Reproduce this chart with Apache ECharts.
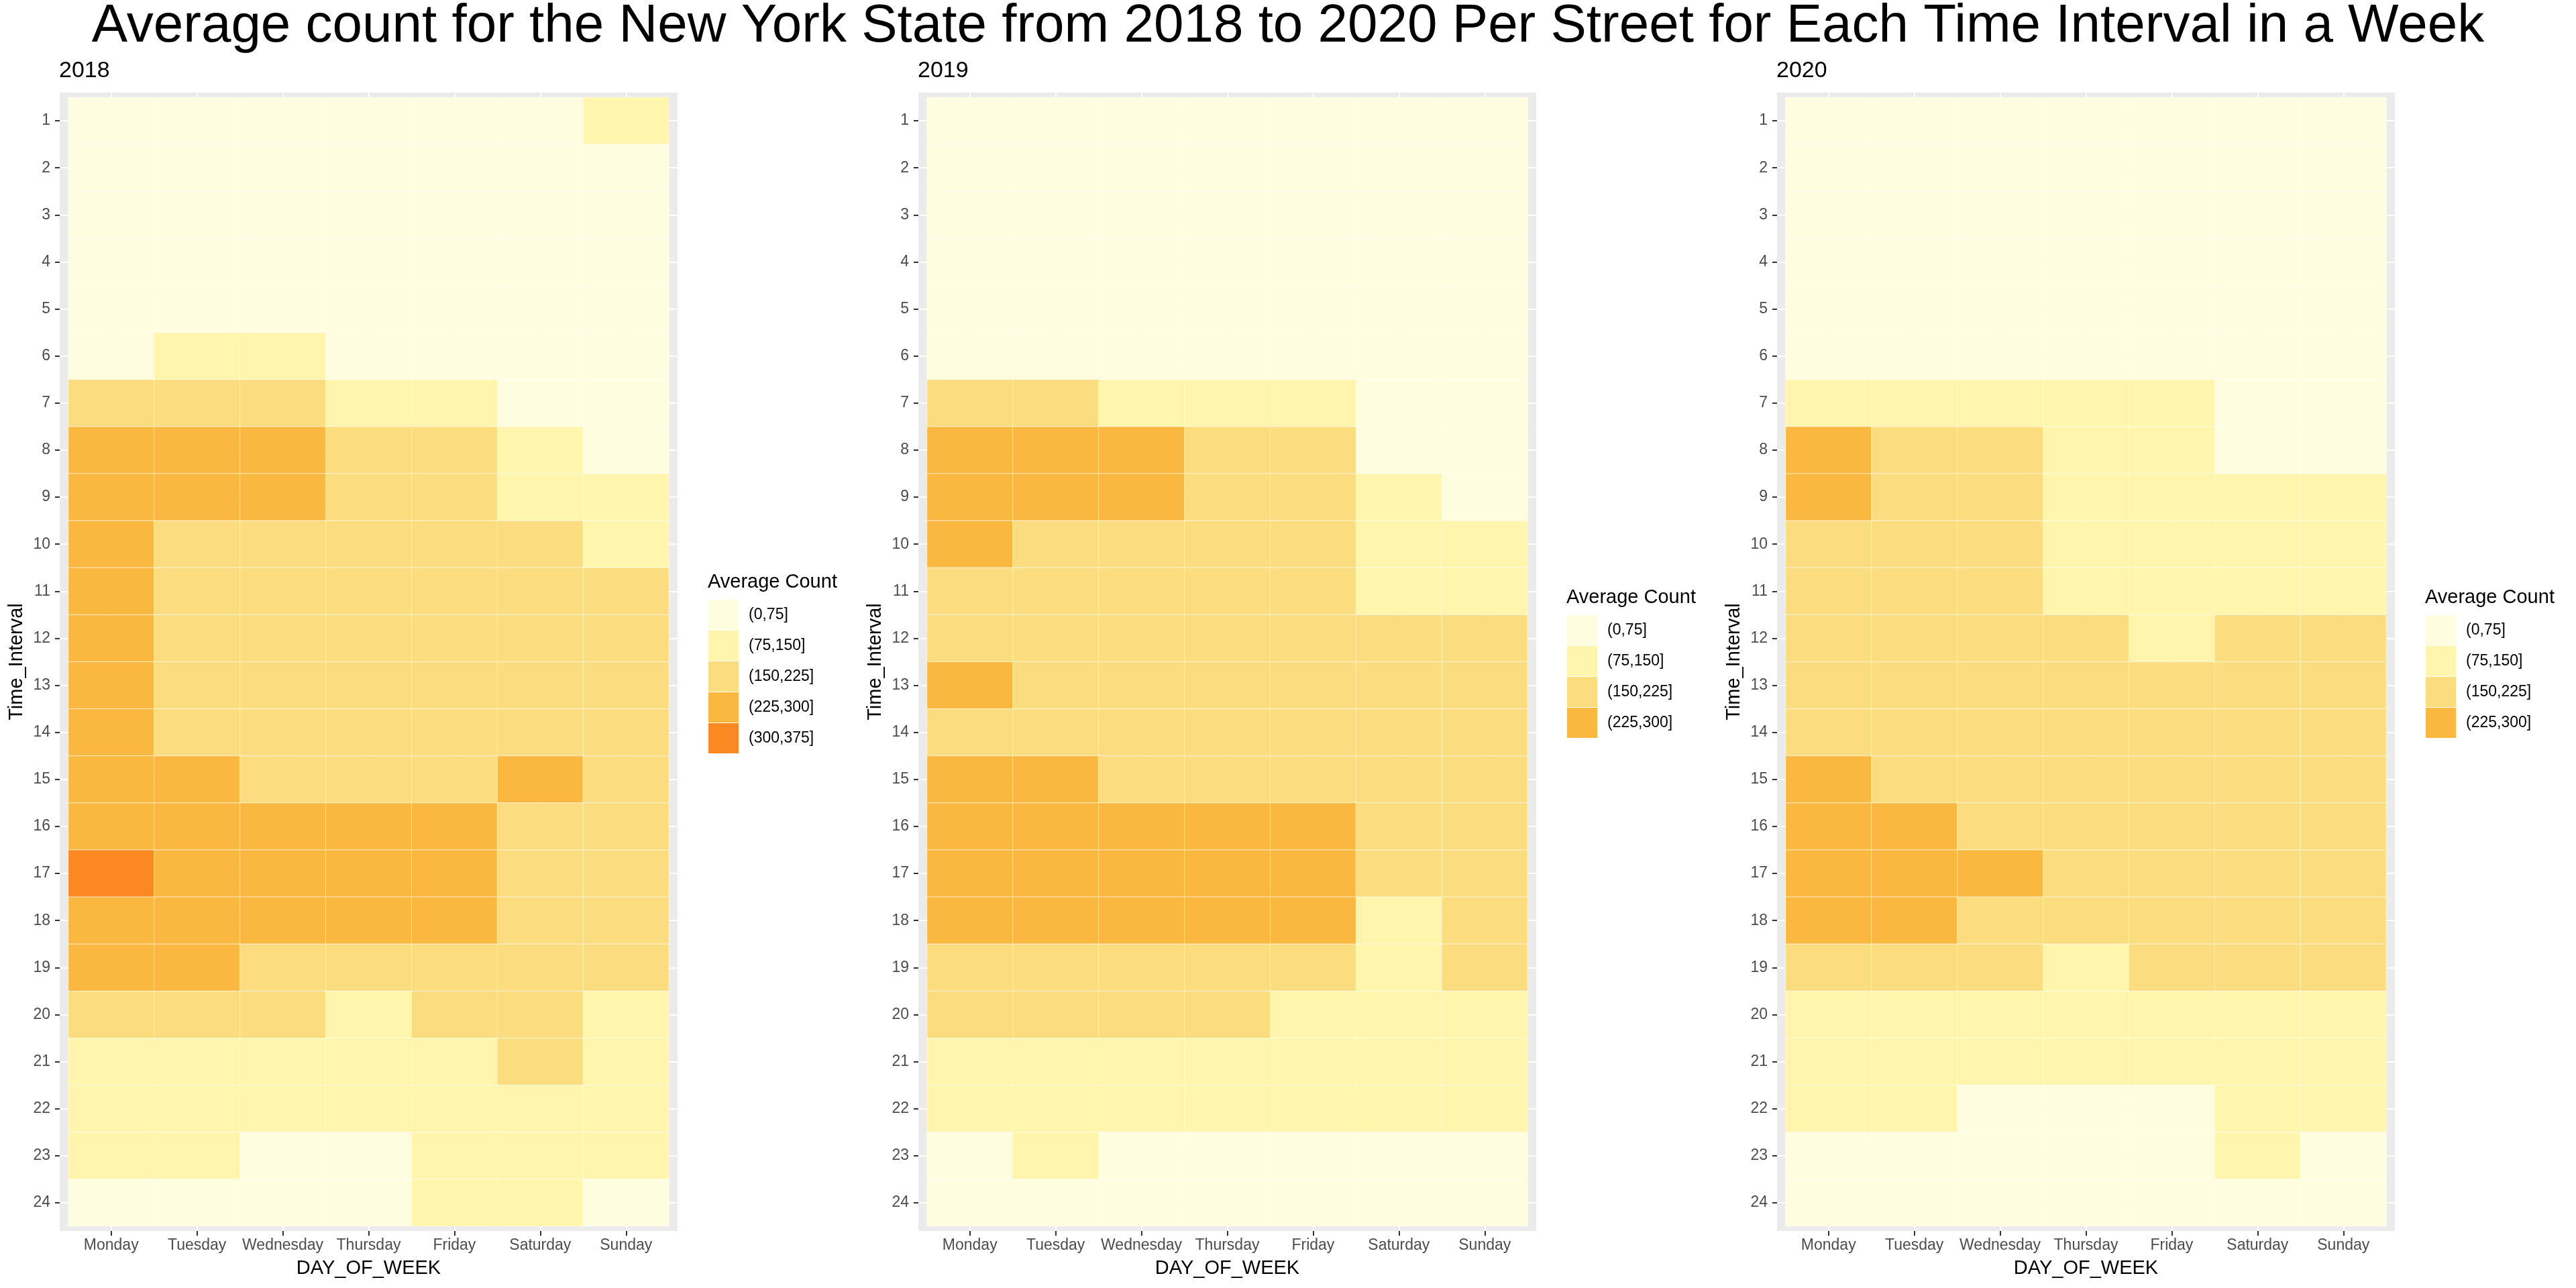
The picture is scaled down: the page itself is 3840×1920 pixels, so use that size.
<!DOCTYPE html>
<html>
<head>
<meta charset="utf-8">
<script src="https://cdn.jsdelivr.net/npm/echarts@6/dist/echarts.min.js"></script>
<style>
  html, body { margin: 0; padding: 0; background: #ffffff; }
  #chart { width: 3840px; height: 1920px; }
</style>
</head>
<body>
<div id="chart"></div>
<script>
// ---- Data ----
const days = ['Monday', 'Tuesday', 'Wednesday', 'Thursday', 'Friday', 'Saturday', 'Sunday'];
const timeIntervals = [1, 2, 3, 4, 5, 6, 7, 8, 9, 10, 11, 12, 13, 14, 15, 16, 17, 18, 19, 20, 21, 22, 23, 24];
const years = ['2018', '2019', '2020'];
const binLabels = ['(0,75]', '(75,150]', '(150,225]', '(225,300]', '(300,375]'];
const binEdges = [0, 75, 150, 225, 300, 375];

// Average count per street; rows = Time_Interval 1..24, columns = Monday..Sunday
const counts2018 = [
  [40, 40, 40, 40, 40, 40, 110],
  [40, 40, 40, 40, 40, 40, 40],
  [40, 40, 40, 40, 40, 40, 40],
  [40, 40, 40, 40, 40, 40, 40],
  [40, 40, 40, 40, 40, 40, 40],
  [40, 110, 110, 40, 40, 40, 40],
  [190, 190, 190, 110, 110, 40, 40],
  [260, 260, 260, 190, 190, 110, 40],
  [260, 260, 260, 190, 190, 110, 110],
  [260, 190, 190, 190, 190, 190, 110],
  [260, 190, 190, 190, 190, 190, 190],
  [260, 190, 190, 190, 190, 190, 190],
  [260, 190, 190, 190, 190, 190, 190],
  [260, 190, 190, 190, 190, 190, 190],
  [260, 260, 190, 190, 190, 260, 190],
  [260, 260, 260, 260, 260, 190, 190],
  [330, 260, 260, 260, 260, 190, 190],
  [260, 260, 260, 260, 260, 190, 190],
  [260, 260, 190, 190, 190, 190, 190],
  [190, 190, 190, 110, 190, 190, 110],
  [110, 110, 110, 110, 110, 190, 110],
  [110, 110, 110, 110, 110, 110, 110],
  [110, 110, 40, 40, 110, 110, 110],
  [40, 40, 40, 40, 110, 110, 40]
];
const counts2019 = [
  [40, 40, 40, 40, 40, 40, 40],
  [40, 40, 40, 40, 40, 40, 40],
  [40, 40, 40, 40, 40, 40, 40],
  [40, 40, 40, 40, 40, 40, 40],
  [40, 40, 40, 40, 40, 40, 40],
  [40, 40, 40, 40, 40, 40, 40],
  [190, 190, 110, 110, 110, 40, 40],
  [260, 260, 260, 190, 190, 40, 40],
  [260, 260, 260, 190, 190, 110, 40],
  [260, 190, 190, 190, 190, 110, 110],
  [190, 190, 190, 190, 190, 110, 110],
  [190, 190, 190, 190, 190, 190, 190],
  [260, 190, 190, 190, 190, 190, 190],
  [190, 190, 190, 190, 190, 190, 190],
  [260, 260, 190, 190, 190, 190, 190],
  [260, 260, 260, 260, 260, 190, 190],
  [260, 260, 260, 260, 260, 190, 190],
  [260, 260, 260, 260, 260, 110, 190],
  [190, 190, 190, 190, 190, 110, 190],
  [190, 190, 190, 190, 110, 110, 110],
  [110, 110, 110, 110, 110, 110, 110],
  [110, 110, 110, 110, 110, 110, 110],
  [40, 110, 40, 40, 40, 40, 40],
  [40, 40, 40, 40, 40, 40, 40]
];
const counts2020 = [
  [40, 40, 40, 40, 40, 40, 40],
  [40, 40, 40, 40, 40, 40, 40],
  [40, 40, 40, 40, 40, 40, 40],
  [40, 40, 40, 40, 40, 40, 40],
  [40, 40, 40, 40, 40, 40, 40],
  [40, 40, 40, 40, 40, 40, 40],
  [110, 110, 110, 110, 110, 40, 40],
  [260, 190, 190, 110, 110, 40, 40],
  [260, 190, 190, 110, 110, 110, 110],
  [190, 190, 190, 110, 110, 110, 110],
  [190, 190, 190, 110, 110, 110, 110],
  [190, 190, 190, 190, 110, 190, 190],
  [190, 190, 190, 190, 190, 190, 190],
  [190, 190, 190, 190, 190, 190, 190],
  [260, 190, 190, 190, 190, 190, 190],
  [260, 260, 190, 190, 190, 190, 190],
  [260, 260, 260, 190, 190, 190, 190],
  [260, 260, 190, 190, 190, 190, 190],
  [190, 190, 190, 110, 190, 190, 190],
  [110, 110, 110, 110, 110, 110, 110],
  [110, 110, 110, 110, 110, 110, 110],
  [110, 110, 40, 40, 40, 110, 110],
  [40, 40, 40, 40, 40, 110, 40],
  [40, 40, 40, 40, 40, 40, 40]
];
const binsShown = [5, 4, 4]; // legend entries present per year

// ---- Styling ----
const FONT = 'Liberation Sans, Arial, Helvetica, sans-serif';
const binColors = ['#FFFDDF', '#FFF5AD', '#FBDD80', '#FBB840', '#FB8822'];
const panelLeft = [89, 1369, 2649];
const panelWidth = 921;
const panelTop = 138;
const panelHeight = 1697;
const legendTop = [894, 917, 917];
const legendTitleTop = [853, 876, 876];

const allCounts = [counts2018, counts2019, counts2020];

function buildData(matrix) {
  const out = [];
  for (let r = 0; r < timeIntervals.length; r++) {
    for (let c = 0; c < days.length; c++) {
      out.push([c + 1, timeIntervals[r], matrix[r][c]]);
    }
  }
  return out;
}

function renderTile(params, api) {
  const x = api.value(0), y = api.value(1);
  const p0 = api.coord([x - 0.5, y - 0.5]);
  const p1 = api.coord([x + 0.5, y + 0.5]);
  return {
    type: 'rect',
    shape: {
      x: Math.min(p0[0], p1[0]),
      y: Math.min(p0[1], p1[1]),
      width: Math.abs(p1[0] - p0[0]),
      height: Math.abs(p1[1] - p0[1])
    },
    style: {
      fill: api.visual('color'),
      stroke: 'rgba(255,255,255,0.55)',
      lineWidth: 1
    }
  };
}

const grids = [], xAxes = [], yAxes = [], series = [], visualMaps = [], titles = [];

titles.push({
  text: 'Average count for the New York State from 2018 to 2020 Per Street for Each Time Interval in a Week',
  left: 'center', top: 0, padding: 0,
  textStyle: { fontFamily: FONT, fontSize: 80, fontWeight: 'normal', color: '#000000' }
});

years.forEach((yr, i) => {
  grids.push({
    left: panelLeft[i], top: panelTop, width: panelWidth, height: panelHeight,
    show: true, backgroundColor: '#EBEBEB', borderWidth: 0
  });
  xAxes.push({
    type: 'value', gridIndex: i, min: 0.4, max: 7.6,
    name: 'DAY_OF_WEEK', nameLocation: 'middle', nameGap: 41,
    nameTextStyle: { fontFamily: FONT, fontSize: 29, color: '#000000' },
    axisLine: { show: false },
    axisTick: { show: true, length: 7, lineStyle: { color: '#333333', width: 2 }, customValues: [1, 2, 3, 4, 5, 6, 7] },
    axisLabel: {
      customValues: [1, 2, 3, 4, 5, 6, 7], margin: 10,
      fontFamily: FONT, fontSize: 23, color: '#4D4D4D',
      formatter: v => days[Math.round(v) - 1]
    },
    splitLine: { show: true, lineStyle: { color: '#FFFFFF', width: 2 } }
  });
  yAxes.push({
    type: 'value', gridIndex: i, min: 0.4, max: 24.6, inverse: true,
    name: 'Time_Interval', nameLocation: 'middle', nameGap: 50,
    nameTextStyle: { fontFamily: FONT, fontSize: 29, color: '#000000' },
    axisLine: { show: false },
    axisTick: { show: true, length: 7, lineStyle: { color: '#333333', width: 2 }, customValues: timeIntervals },
    axisLabel: {
      customValues: timeIntervals, margin: 14,
      fontFamily: FONT, fontSize: 23, color: '#4D4D4D',
      formatter: v => String(Math.round(v))
    },
    splitLine: { show: true, lineStyle: { color: '#FFFFFF', width: 2 } }
  });
  series.push({
    type: 'custom', name: yr, xAxisIndex: i, yAxisIndex: i,
    renderItem: renderTile,
    encode: { x: 0, y: 1 },
    data: buildData(allCounts[i]),
    silent: true
  });
  const pieces = [];
  for (let b = 0; b < binsShown[i]; b++) {
    pieces.push({ gt: binEdges[b], lte: binEdges[b + 1], label: binLabels[b], color: binColors[b] });
  }
  visualMaps.push({
    type: 'piecewise', seriesIndex: i, dimension: 2,
    pieces: pieces, orient: 'vertical', inverse: true, align: 'left',
    left: panelLeft[i] + panelWidth + 46, top: legendTop[i],
    padding: 0, itemWidth: 45, itemHeight: 45, itemGap: 1,
    itemSymbol: 'rect', textGap: 15, hoverLink: false, selectedMode: false,
    textStyle: { fontFamily: FONT, fontSize: 23, color: '#000000' }
  });
  titles.push({
    text: yr, left: panelLeft[i] - 1, top: 89, padding: 0,
    textStyle: { fontFamily: FONT, fontSize: 34, fontWeight: 'normal', color: '#000000' }
  });
  titles.push({
    text: 'Average Count', left: panelLeft[i] + panelWidth + 45, top: legendTitleTop[i], padding: 0,
    textStyle: { fontFamily: FONT, fontSize: 29, fontWeight: 'normal', color: '#000000' }
  });
});

const chart = echarts.init(document.getElementById('chart'), null, { renderer: 'canvas' });
chart.setOption({
  animation: false,
  backgroundColor: '#FFFFFF',
  title: titles,
  grid: grids,
  xAxis: xAxes,
  yAxis: yAxes,
  visualMap: visualMaps,
  series: series
});
</script>
</body>
</html>
